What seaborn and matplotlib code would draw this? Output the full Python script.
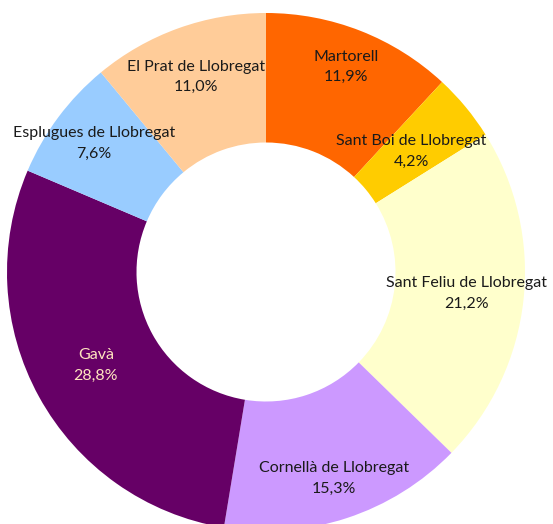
import matplotlib
matplotlib.use('Agg')
import matplotlib.pyplot as plt
import numpy as np
import seaborn as sns

sns.set_style("white")
plt.rcParams['font.family'] = ['Lato', 'DejaVu Sans']

# 数据
municipis = ['Martorell', 'Sant Boi de Llobregat', 'Sant Feliu de Llobregat',
             'Cornellà de Llobregat', 'Gavà', 'Esplugues de Llobregat',
             'El Prat de Llobregat']
percentatges = [11.9, 4.2, 21.2, 15.3, 28.8, 7.6, 11.0]
colors = ['#FF6600', '#FFCC00', '#FFFFCC', '#CC99FF', '#660066', '#99CCFF', '#FFCC99']
text_colors = ['#1a1a1a', '#1a1a1a', '#1a1a1a', '#1a1a1a', '#FFE5BF', '#1a1a1a', '#1a1a1a']
# 标签的径向距离（布局微调）
label_dist = [0.85, 0.73, 0.78, 0.84, 0.75, 0.83, 0.80]

fig = plt.figure(figsize=(5.53, 5.24), dpi=100)
ax = fig.add_axes([0, 0, 1, 1])

wedges, texts = ax.pie(
    percentatges, colors=colors, startangle=90, counterclock=False,
    radius=1.0, wedgeprops=dict(width=0.5, linewidth=0))

# 标签：名称 + 百分比（逗号小数）
for w, name, pct, c, d in zip(wedges, municipis, percentatges, text_colors, label_dist):
    ang = np.deg2rad((w.theta1 + w.theta2) / 2)
    ax.text(d * np.cos(ang), d * np.sin(ang),
            f"{name}\n{pct:.1f}%".replace('.', ','),
            ha='center', va='center', color=c, fontsize=11.5, linespacing=1.6)

# 画布范围（圆心偏上，底部被裁切）
ax.set_xlim(-266 / 259, (553 - 266) / 259)
ax.set_ylim(-(524 - 272) / 259, 272 / 259)
ax.set_aspect('auto')
ax.axis('off')

fig.savefig('out.png', dpi=100)
